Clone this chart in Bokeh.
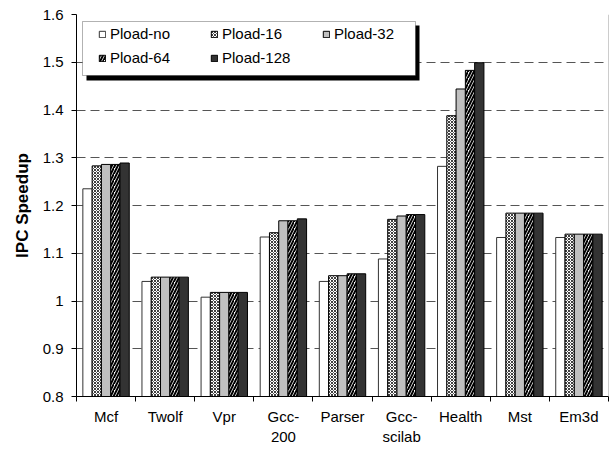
from bokeh.plotting import figure
from bokeh.models import (ColumnDataSource, FixedTicker, CustomJSTickFormatter,
                          Legend, LegendItem, BoxAnnotation, Span, Range1d)
from bokeh.transform import dodge
from bokeh.embed import file_html
from bokeh.resources import INLINE

# IPC speedup per benchmark for each prefetch-load configuration
benchmarks = ["Mcf", "Twolf", "Vpr", "Gcc-\n200", "Parser", "Gcc-\nscilab", "Health", "Mst", "Em3d"]
series_names = ["Pload-no", "Pload-16", "Pload-32", "Pload-64", "Pload-128"]
pload_no = [1.235, 1.041, 1.008, 1.134, 1.041, 1.088, 1.282, 1.133, 1.133]
pload_16 = [1.283, 1.050, 1.018, 1.143, 1.053, 1.171, 1.388, 1.184, 1.140]
pload_32 = [1.286, 1.050, 1.018, 1.168, 1.053, 1.178, 1.444, 1.184, 1.140]
pload_64 = [1.286, 1.050, 1.018, 1.168, 1.057, 1.181, 1.483, 1.184, 1.140]
pload_128 = [1.289, 1.050, 1.018, 1.172, 1.057, 1.181, 1.499, 1.184, 1.140]
y_ticks = [0.8, 0.9, 1.0, 1.1, 1.2, 1.3, 1.4, 1.5, 1.6]
y_min, y_max = 0.8, 1.6

FONT = "Liberation Sans"
W, H = 611, 451
FRAME_LEFT, FRAME_RIGHT, FRAME_TOP, FRAME_BOTTOM = 76, 608, 14, 396

n = len(benchmarks)
centers = [i + 0.5 for i in range(n)]
series = [pload_no, pload_16, pload_32, pload_64, pload_128]
keys = ["p_no", "p_16", "p_32", "p_64", "p_128"]
data = dict(x=centers)
for k, s in zip(keys, series):
    data[k] = s
source = ColumnDataSource(data)

p = figure(width=W, height=H, output_backend="svg", toolbar_location=None,
           x_range=Range1d(0, n), y_range=Range1d(y_min, y_max),
           min_border_left=FRAME_LEFT, min_border_right=W - FRAME_RIGHT,
           min_border_top=FRAME_TOP, min_border_bottom=H - FRAME_BOTTOM)
p.outline_line_color = None
p.background_fill_color = "white"
p.border_fill_color = "white"

bar_w = 0.157
styles = [
    dict(fill_color="white", line_color="#333333"),
    dict(fill_color="white", hatch_pattern="x", hatch_color="#404040",
         hatch_scale=3, hatch_weight=1, line_color="black"),
    dict(fill_color="#c0c0c0", line_color="black"),
    dict(fill_color="white", hatch_pattern="/", hatch_color="black",
         hatch_scale=6, hatch_weight=2, line_color="black"),
    dict(fill_color="#333333", line_color="black"),
]

renderers = []
for i, (k, st) in enumerate(zip(keys, styles)):
    off = (i - 2) * bar_w
    r = p.vbar(x=dodge("x", off), top=k, bottom=y_min, width=bar_w,
               source=source, line_width=1, **st)
    renderers.append(r)

# grid
p.xgrid.visible = False
p.ygrid.ticker = FixedTicker(ticks=y_ticks)
p.ygrid.grid_line_color = "#555555"
p.ygrid.grid_line_dash = "9 5"
p.ygrid.grid_line_width = 1

# y axis
p.yaxis.ticker = FixedTicker(ticks=y_ticks, minor_ticks=[])
p.yaxis.formatter = CustomJSTickFormatter(code="return (Math.round(tick * 10) / 10).toString();")
p.yaxis.major_tick_out = 5
p.yaxis.major_tick_in = 0
p.yaxis.minor_tick_out = 0
p.yaxis.minor_tick_in = 0
p.yaxis.axis_line_color = "black"
p.yaxis.major_tick_line_color = "black"
p.yaxis.major_label_text_font = FONT
p.yaxis.major_label_text_font_size = "15px"
p.yaxis.major_label_text_color = "black"
p.yaxis.major_label_standoff = 8
p.yaxis.axis_label = "IPC Speedup"
p.yaxis.axis_label_text_font = FONT
p.yaxis.axis_label_text_font_style = "bold"
p.yaxis.axis_label_text_font_size = "17px"
p.yaxis.axis_label_text_color = "black"
p.yaxis.axis_label_standoff = 8

# x axis: labels centred on categories, ticks on category boundaries
p.xaxis.ticker = FixedTicker(ticks=centers, minor_ticks=list(range(n + 1)))
p.xaxis.formatter = CustomJSTickFormatter(args=dict(labels=benchmarks),
                                          code="return labels[Math.floor(tick)];")
p.xaxis.major_tick_out = 0
p.xaxis.major_tick_in = 0
p.xaxis.minor_tick_out = 5
p.xaxis.minor_tick_in = 0
p.xaxis.minor_tick_line_color = "black"
p.xaxis.axis_line_color = "black"
p.xaxis.major_label_text_font = FONT
p.xaxis.major_label_text_font_size = "15px"
p.xaxis.major_label_text_color = "black"
p.xaxis.major_label_standoff = 6

# right border of the plot area
p.add_layout(Span(location=n, dimension="height", line_color="#999999", line_width=1))


def px_x(px):
    return (px - FRAME_LEFT) / (FRAME_RIGHT - FRAME_LEFT) * n


def px_y(py):
    return y_max - (py - FRAME_TOP) / (FRAME_BOTTOM - FRAME_TOP) * (y_max - y_min)


# legend frame with drop shadow
shadow = BoxAnnotation(left=px_x(86), right=px_x(419), top=px_y(25), bottom=px_y(80),
                       fill_color="black", fill_alpha=1, line_color=None)
frame = BoxAnnotation(left=px_x(82), right=px_x(415), top=px_y(21), bottom=px_y(75),
                      fill_color="white", fill_alpha=1, line_color="black", line_width=1)
p.add_layout(shadow)
p.add_layout(frame)

legend = Legend(items=[LegendItem(label=nm, renderers=[r]) for nm, r in zip(series_names, renderers)],
                location=(98 - FRAME_LEFT, FRAME_BOTTOM - 66),
                orientation="horizontal", nrows=2,
                glyph_width=8, glyph_height=8, label_standoff=4,
                label_width=93, label_height=17, spacing=7,
                padding=0, margin=0,
                border_line_alpha=0, background_fill_alpha=0,
                label_text_font=FONT, label_text_font_size="15px",
                label_text_color="black")
p.add_layout(legend)

open("out.html", "w").write(file_html(p, INLINE))
